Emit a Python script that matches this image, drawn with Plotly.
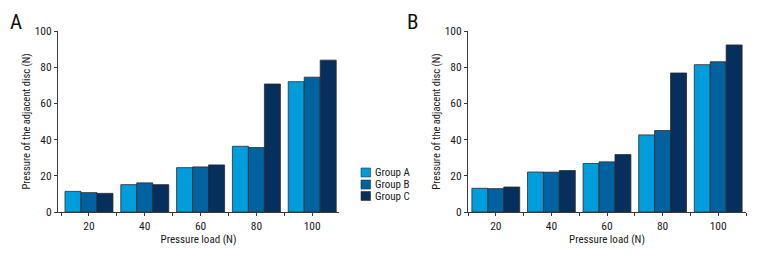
import plotly.graph_objects as go

categories = ["20", "40", "60", "80", "100"]
groups = ["Group A", "Group B", "Group C"]
colors = ["#009DDC", "#00629E", "#062F5E"]

panel_a = {
    "Group A": [11.4, 15.1, 24.5, 36.3, 72.0],
    "Group B": [10.7, 16.1, 24.9, 35.6, 74.5],
    "Group C": [10.3, 15.1, 26.0, 70.7, 83.9],
}
panel_b = {
    "Group A": [13.1, 22.1, 26.8, 42.6, 81.4],
    "Group B": [12.9, 22.0, 27.7, 45.0, 83.0],
    "Group C": [13.8, 22.9, 31.7, 76.8, 92.3],
}

y_ticks = [0, 20, 40, 60, 80, 100]
x_title = "Pressure load (N)"
y_title = "Pressure of the adjacent disc (N)"

FONT = "Roboto Condensed, Noto Sans Condensed, DejaVu Sans Condensed, sans-serif"
TXT = "#1a1a1a"
W, H = 768, 276
OFF = 8  # page body margin


def px(x):
    return (x - OFF) / W


def py(y):
    return 1 - (y - OFF) / H


xpos = list(range(len(categories)))

fig = go.Figure()
for data, xa, ya in [(panel_a, "x", "y"), (panel_b, "x2", "y2")]:
    for g, c in zip(groups, colors):
        fig.add_trace(go.Bar(
            x=xpos, y=data[g], name=g, marker=dict(color=c, line=dict(color="#2b2b2b", width=0.8)),
            xaxis=xa, yaxis=ya, showlegend=False,
        ))

axis_common = dict(
    showline=True, linecolor="#3a3a3a", linewidth=1, ticks="outside", ticklen=3,
    tickcolor="#3a3a3a", showgrid=False, zeroline=False, automargin=False,
    tickfont=dict(family=FONT, size=11.5, color=TXT),
)
xcommon = dict(axis_common, tickvals=xpos, ticktext=categories,
               minor=dict(tickvals=[i - 0.5 for i in range(len(categories) + 1)], ticks="outside",
                          ticklen=3, tickcolor="#3a3a3a"),
               title=dict(text=x_title, font=dict(family=FONT, size=11, color=TXT), standoff=3))
ycommon = dict(axis_common, range=[0, 100], tickvals=y_ticks,
               title=dict(text=y_title, font=dict(family=FONT, size=10.5, color=TXT), standoff=1))

# manual legend (squares + labels)
shapes = []
annotations = []
leg_rows = [172.5, 184.5, 196.0]
for g, c, yc in zip(groups, colors, leg_rows):
    shapes.append(dict(type="rect", xref="paper", yref="paper",
                       x0=px(361), x1=px(370.5), y0=py(yc - 4.5), y1=py(yc + 4.5),
                       fillcolor=c, line=dict(color="#2b2b2b", width=0.6)))
    annotations.append(dict(text=g, x=px(373), y=py(yc), xref="paper", yref="paper", showarrow=False,
                            xanchor="left", yanchor="middle", font=dict(family=FONT, size=11, color=TXT)))

annotations += [
    dict(text="A", x=px(8), y=py(22), xref="paper", yref="paper", showarrow=False,
         xanchor="left", yanchor="middle", font=dict(family=FONT, size=21, color="#111")),
    dict(text="B", x=px(405), y=py(22), xref="paper", yref="paper", showarrow=False,
         xanchor="left", yanchor="middle", font=dict(family=FONT, size=21, color="#111")),
]

fig.update_layout(
    width=W, height=H, margin=dict(l=0, r=0, t=0, b=0, autoexpand=False),
    paper_bgcolor="white", plot_bgcolor="white",
    barmode="group", bargap=0.14, bargroupgap=0, showlegend=False,
    xaxis=dict(xcommon, domain=[px(58), px(339)], range=[-0.555, 4.48], anchor="y"),
    yaxis=dict(ycommon, domain=[py(212), py(31)], anchor="x"),
    xaxis2=dict(xcommon, domain=[px(468), px(746)], range=[-0.5, 4.5], anchor="y2"),
    yaxis2=dict(ycommon, domain=[py(212), py(31)], anchor="x2"),
    shapes=shapes,
    annotations=annotations,
)

fig.write_html("out.html")
